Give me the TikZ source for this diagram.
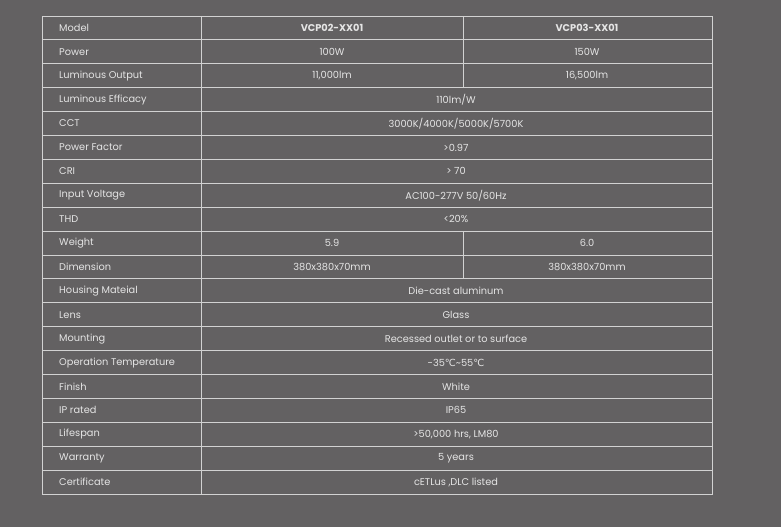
\documentclass[tikz,border=0pt]{standalone}
\usepackage{fontspec}
\setmainfont{Poppins}
\newfontfamily\djv{DejaVu Sans}
\definecolor{bg}{HTML}{636162}
\definecolor{ln}{HTML}{D2D2D2}
\begin{document}
\begin{tikzpicture}[x=1pt,y=-1pt,
  lab/.style={anchor=west,font=\fontsize{9.8}{11}\selectfont\color{white!90!black},inner sep=0},
  val/.style={anchor=center,font=\fontsize{9.8}{11}\selectfont\color{white!90!black},inner sep=0},
  grid/.style={draw=ln,line width=0.9pt}]
\useasboundingbox[fill=bg] (0,0) rectangle (781,527);
\def\T{16}\def\H{23.9}
\draw[grid] (42,\T) rectangle (712,494);
\foreach \i in {1,...,19} \draw[grid] (42,\T+\i*\H) -- (712,\T+\i*\H);
\draw[grid] (201,\T) -- (201,494);
\draw[grid] (463,\T) -- (463,\T+3*\H);
\draw[grid] (463,\T+9*\H) -- (463,\T+11*\H);
\foreach [count=\i from 0] \t in {Model,Power,Luminous Output,Luminous Efficacy,CCT,Power Factor,CRI,Input Voltage,THD,Weight,Dimension,Housing Mateial,Lens,Mounting,Operation Temperature,Finish,IP rated,Lifespan,Warranty,Certificate}
  \node[lab] (l\i) at (59,\T+\i*\H+\H/2) {\t};
\node[val] (a0) at (332,\T+0.5*\H) {\bfseries VCP02-XX01};
\node[val] (b0) at (587,\T+0.5*\H) {\bfseries VCP03-XX01};
\node[val] (a1) at (332,\T+1.5*\H) {100W};
\node[val] (b1) at (587,\T+1.5*\H) {150W};
\node[val] (a2) at (332,\T+2.5*\H) {11,000lm};
\node[val] (b2) at (587,\T+2.5*\H) {16,500lm};
\node[val] (a9) at (332,\T+9.5*\H) {5.9};
\node[val] (b9) at (587,\T+9.5*\H) {6.0};
\node[val] (a10) at (332,\T+10.5*\H) {380x380x70mm};
\node[val] (b10) at (587,\T+10.5*\H) {380x380x70mm};
\foreach \i/\t in {3/{110lm/W},4/{3000K/4000K/5000K/5700K},5/>0.97,6/> 70,7/{AC100-277V 50/60Hz},8/<20\%,11/Die-cast aluminum,12/Glass,13/Recessed outlet or to surface,15/White,16/IP65,17/{>50,000 hrs, LM80},18/5 years,19/{cETLus ,DLC listed}}
  \node[val] (s\i) at (456,\T+\i*\H+\H/2) {\t};
\node[val] (s14) at (456,\T+14.5*\H) {-35{\djv ℃}\textasciitilde55{\djv ℃}};
\end{tikzpicture}
\end{document}
